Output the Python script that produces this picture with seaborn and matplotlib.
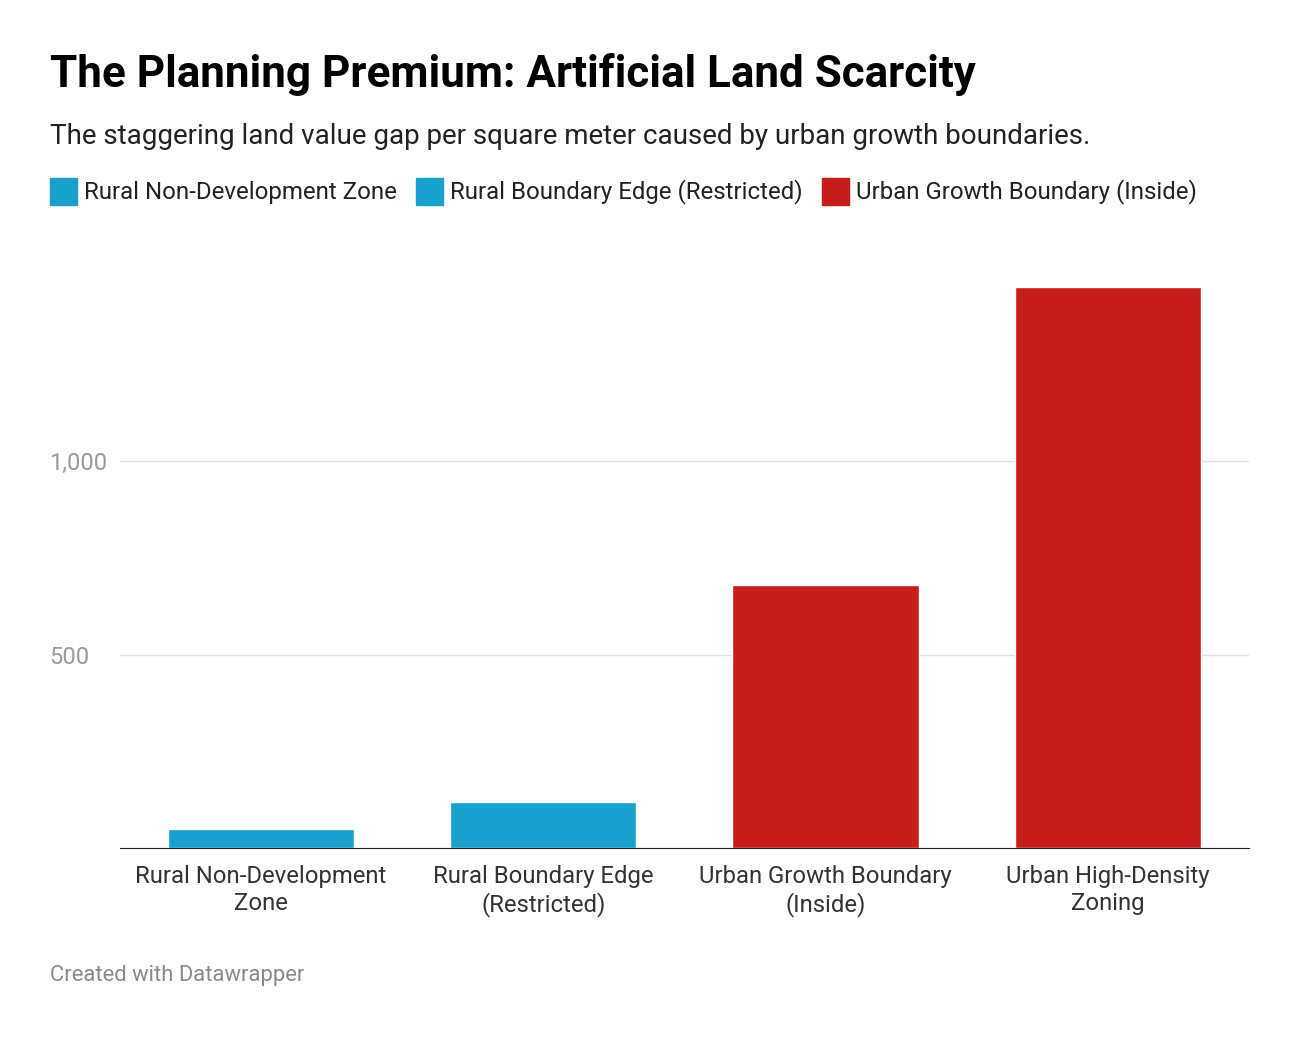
import matplotlib
matplotlib.use("Agg")
import matplotlib.pyplot as plt
import seaborn as sns
import pandas as pd
from matplotlib.patches import Rectangle

categories = ["Rural Non-Development\nZone", "Rural Boundary Edge\n(Restricted)",
              "Urban Growth Boundary\n(Inside)", "Urban High-Density\nZoning"]
values = [48, 118, 680, 1450]
legend_labels = ["Rural Non-Development Zone", "Rural Boundary Edge (Restricted)",
                 "Urban Growth Boundary (Inside)"]
BLUE, RED = "#18a1cd", "#c71e1d"
bar_colors = [BLUE, BLUE, RED, RED]

sns.set_style("white")
plt.rcParams['font.family'] = ['Roboto', 'DejaVu Sans']

df = pd.DataFrame({"cat": categories, "val": values})
fig = plt.figure(figsize=(13, 10.38), dpi=100)
ax = fig.add_axes([0.092, 0.183, 0.869, 0.578])
sns.barplot(data=df, x="cat", y="val", hue="cat", palette=bar_colors,
            width=0.66, legend=False, ax=ax, saturation=1)
ax.set_ylim(0, 1550)
ax.set_xlim(-0.5, 3.5)
ax.set_yticks([500, 1000])
ax.set_yticklabels(["500", "1,000"])
ax.yaxis.grid(True, color="#e0e0e0", lw=1)
ax.set_axisbelow(True)
for s in ["top", "right", "left"]:
    ax.spines[s].set_visible(False)
ax.spines["bottom"].set_color("#222222")
ax.tick_params(axis="y", length=0, labelsize=17, labelcolor="#9a9a9a", pad=0)
for lbl in ax.get_yticklabels():
    lbl.set_horizontalalignment("left")
    lbl.set_x(-0.062)
ax.tick_params(axis="x", length=0, labelsize=17.2, labelcolor="#333333", pad=12)
for lbl in ax.get_xticklabels():
    lbl.set_linespacing(1.25)
ax.set_xlabel("")
ax.set_ylabel("")

fig.text(50/1300, 1-75/1038, "The Planning Premium: Artificial Land Scarcity",
         fontsize=31.7, fontweight="bold", color="#000000", va="center")
fig.text(50/1300, 1-136/1038,
         "The staggering land value gap per square meter caused by urban growth boundaries.",
         fontsize=20, color="#222222", va="center")
xs = [50, 416, 822]
for x, lab, c in zip(xs, legend_labels, [BLUE, BLUE, RED]):
    fig.patches.append(Rectangle((x/1300, 1-205/1038), 27/1300, 27/1038,
                                 transform=fig.transFigure, color=c))
    fig.text((x+34)/1300, 1-192/1038, lab, fontsize=17.3, color="#222222", va="center")
fig.text(50/1300, 1-975/1038, "Created with Datawrapper", fontsize=15.8,
         color="#8a8a8a", va="center")
fig.savefig("out.png", dpi=100)
